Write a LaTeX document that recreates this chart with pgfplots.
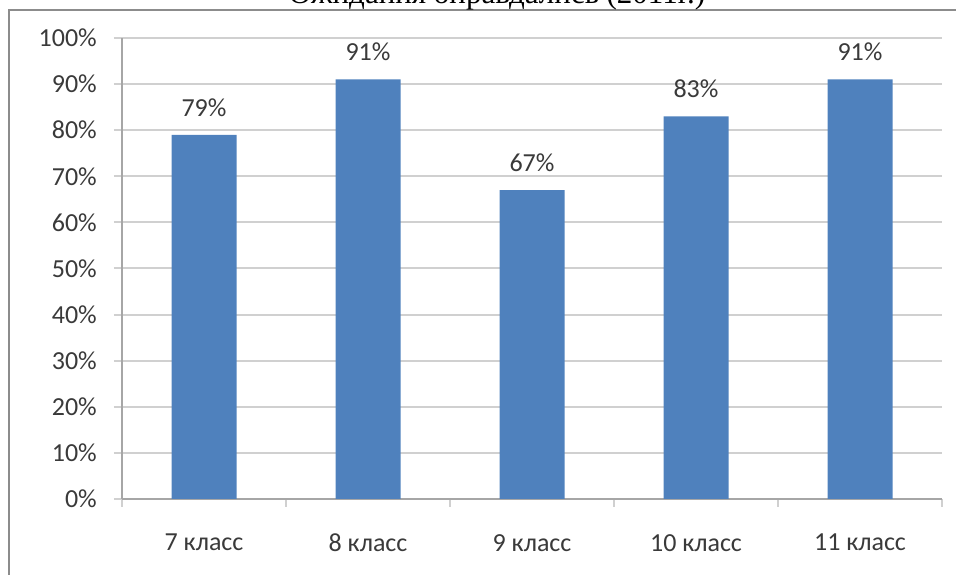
\documentclass[border=0pt]{standalone}
\usepackage{pgfplots}
\pgfplotsset{compat=1.18}
\usepackage{fontspec}
\setmainfont{Carlito}
\newfontfamily\titlefont{Liberation Serif}
\definecolor{barblue}{HTML}{4F81BD}
\definecolor{gridgray}{HTML}{D0D0D0}
\definecolor{axisgray}{HTML}{A6A6A6}
\definecolor{textgray}{HTML}{3A3A3A}
\definecolor{framegray}{HTML}{8C8C8C}
\pgfkeys{/pgf/number format/assume math mode=true}

\begin{document}
\begin{tikzpicture}[x=1pt,y=1pt]
\path[use as bounding box, clip] (0,0) rectangle (956,575);
\draw[line width=2.2pt, framegray] (9,-10) -- (9,565) -- (970,565);
\node[font=\titlefont\fontsize{31}{36}\selectfont, anchor=base, inner sep=0pt]
  at (497,571) {Ожидания оправдались (2011г.)};
\begin{axis}[
  at={(122pt,76pt)}, anchor=south west,
  scale only axis, width=820pt, height=461pt,
  xmin=0, xmax=5, ymin=0, ymax=100,
  axis x line*=bottom, axis y line*=left,
  axis line style={axisgray, line width=1.5pt},
  ytick={0,10,...,100},
  yticklabel={\pgfmathprintnumber[assume math mode=true]{\tick}\%},
  xtick={0,1,...,5},
  xticklabels={7 класс, 8 класс, 9 класс, 10 класс, 11 класс},
  x tick label as interval=true,
  tick align=outside,
  major tick length=8pt,
  tick style={gridgray, line width=2pt},
  ymajorgrids, grid style={gridgray, line width=2pt},
  ticklabel style={font=\fontsize{26}{31}\selectfont, text=textgray},
  yticklabel style={inner sep=0pt, xshift=-17pt},
  xticklabel style={inner sep=0pt, yshift=-27pt},
  ybar, bar width=65pt,
  nodes near coords={\pgfmathprintnumber[assume math mode=true]{\pgfplotspointmeta}\%},
  every node near coord/.append style={font=\fontsize{26}{31}\selectfont,
    text=textgray, anchor=base, inner sep=0pt, yshift=18.5pt},
]
\addplot[fill=barblue, draw=none] coordinates {
  (0.5,79) (1.5,91) (2.5,67) (3.5,83) (4.5,91)
};
\end{axis}
\end{tikzpicture}
\end{document}
